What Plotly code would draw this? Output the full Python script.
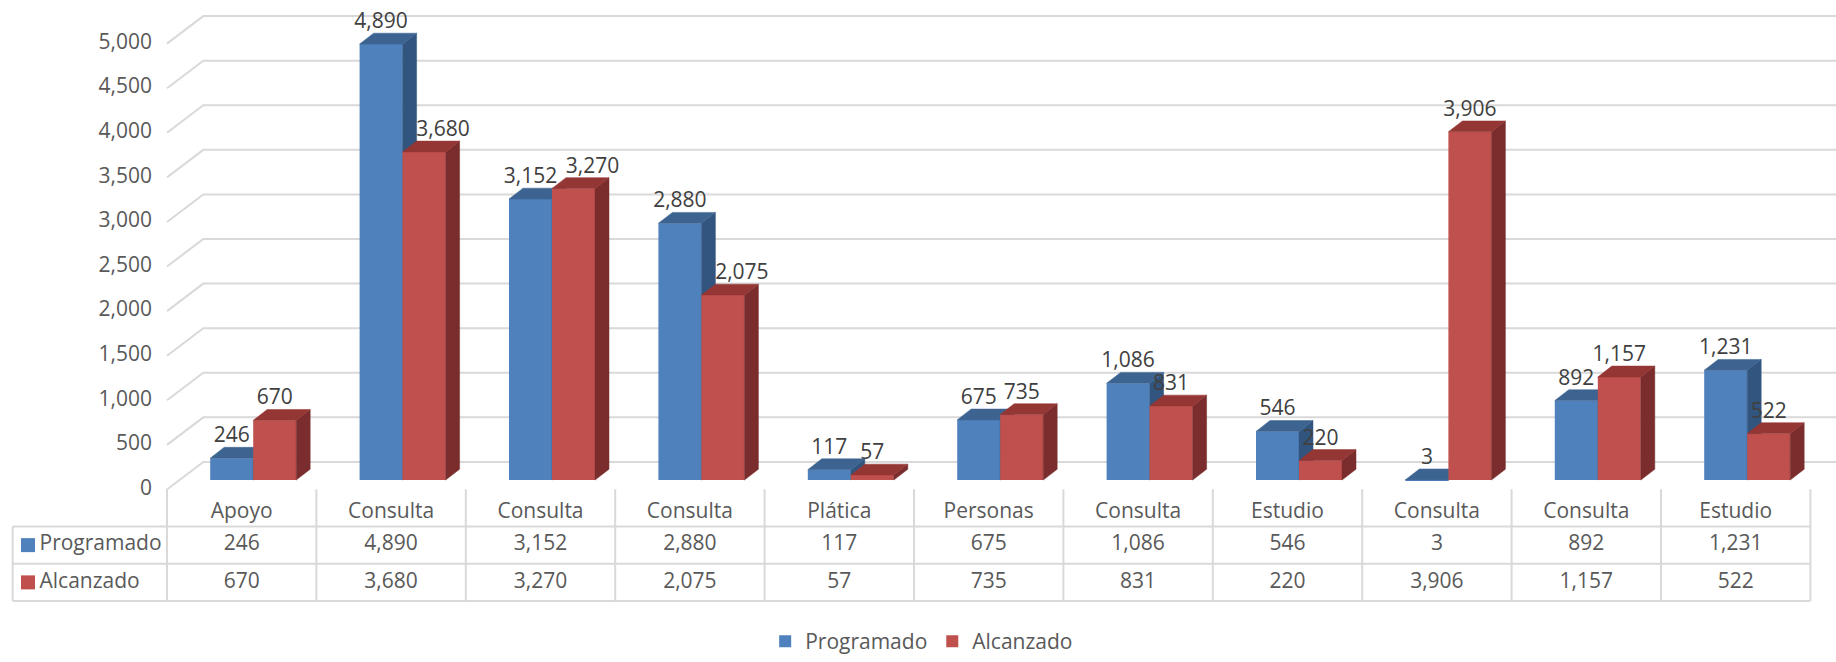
import plotly.graph_objects as go

# ---------------- data ----------------
categories = ["Apoyo", "Consulta", "Consulta", "Consulta", "Plática", "Personas",
              "Consulta", "Estudio", "Consulta", "Consulta", "Estudio"]
programado = [246, 4890, 3152, 2880, 117, 675, 1086, 546, 3, 892, 1231]
alcanzado = [670, 3680, 3270, 2075, 57, 735, 831, 220, 3906, 1157, 522]
series_names = ["Programado", "Alcanzado"]
y_ticks = [0, 500, 1000, 1500, 2000, 2500, 3000, 3500, 4000, 4500, 5000]

# ---------------- styling / geometry ----------------
FONT = "Open Sans"
FS = 21
TXT = "#595959"
LBL = "#404040"
GRID = "#D9D9D9"
FRONT_COL = ["#4F81BD", "#C0504D"]
TOP_COL = ["#3D6491", "#943634"]
SIDE_COL = ["#32557F", "#7B2D2D"]

W_PX, H_PX = 1836, 662
COL_PX = 149.4          # pixel width of one category column
X0_PX = 167.0           # left edge of first column (front plane)
BASE_PX = 486.7         # pixel row of bar base
PX_PER_UNIT = 0.0904    # pixels per value unit

def dx(px):
    return px / COL_PX

def dy(px):
    return px / PX_PER_UNIT

x_min = (0 - X0_PX) / COL_PX - 0.5
x_max = (W_PX - X0_PX) / COL_PX - 0.5
y_min = (BASE_PX - H_PX) / PX_PER_UNIT
y_max = BASE_PX / PX_PER_UNIT

BAR_W = dx(43)          # front face width
SHIFT = dx(11.5)        # bar front plane offset (depth)
DEPTH_X = dx(14)        # bar depth (x)
DEPTH_Y = dy(11)        # bar depth (y)
BACK_X = dx(36.3)       # back wall depth
BACK_Y = dy(18.4)
FRONT_Y = dy(-9.5)
LABEL_PAD = dy(10.5)
LABEL_NUDGE = dx(19)    # sideways move of a crowded label


def fmt(v):
    return f"{v:,}"


def text_w_px(s):
    # rough text width estimate for collision checks
    return sum(5.5 if c == "," else 12.0 for c in s)


# table rows (row units)
ROW_PX = 37.77
TABLE_BOTTOM_PX = 609.3
r_min = -(H_PX - TABLE_BOTTOM_PX) / ROW_PX
r_max = TABLE_BOTTOM_PX / ROW_PX
x_table_left = (12.7 - X0_PX) / COL_PX - 0.5
x_table_right = len(categories) - 0.5

n = len(categories)
idx = list(range(n))
series = [programado, alcanzado]

fig = go.Figure()

# ---- back wall gridlines + slanted floor lines ----
gx, gy = [], []
for t in y_ticks:
    gx += [-0.5, -0.5 + BACK_X, x_max, None]
    gy += [t + FRONT_Y, t + BACK_Y, t + BACK_Y, None]
fig.add_trace(go.Scatter(x=gx, y=gy, mode="lines", line=dict(color=GRID, width=2),
                         hoverinfo="skip", showlegend=False, xaxis="x", yaxis="y"))

# ---- y tick labels ----
fig.add_trace(go.Scatter(x=[-0.5 - dx(15)] * len(y_ticks), y=[t + FRONT_Y for t in y_ticks],
                         mode="text", text=[fmt(t) for t in y_ticks],
                         textposition="middle left",
                         textfont=dict(family=FONT, size=FS, color=TXT),
                         hoverinfo="skip", showlegend=False, xaxis="x", yaxis="y"))

# ---- data table (own row axis) ----
tx, ty = [], []
for r in [2, 1, 0]:
    tx += [x_table_left, x_table_right, None]
    ty += [r, r, None]
for i in range(n + 1):
    tx += [i - 0.5, i - 0.5, None]
    ty += [0, 3, None]
tx += [x_table_left, x_table_left, None]
ty += [0, 2, None]
fig.add_trace(go.Scatter(x=tx, y=ty, mode="lines", line=dict(color=GRID, width=2),
                         hoverinfo="skip", showlegend=False, xaxis="x", yaxis="y2"))
fig.add_trace(go.Scatter(x=idx, y=[2.36] * n, mode="text", text=categories,
                         textfont=dict(family=FONT, size=FS, color=TXT),
                         hoverinfo="skip", showlegend=False, xaxis="x", yaxis="y2"))
for s, (vals, rr) in enumerate(zip(series, [1.5, 0.5])):
    fig.add_trace(go.Scatter(x=idx, y=[rr] * n, mode="text", text=[fmt(v) for v in vals],
                             textfont=dict(family=FONT, size=FS, color=TXT),
                             hoverinfo="skip", showlegend=False, xaxis="x", yaxis="y2"))
    fig.add_trace(go.Scatter(x=[(28 - X0_PX) / COL_PX - 0.5], y=[rr], mode="markers",
                             marker=dict(symbol="square", size=14, color=FRONT_COL[s]),
                             hoverinfo="skip", showlegend=False, xaxis="x", yaxis="y2"))
    fig.add_trace(go.Scatter(x=[(39.5 - X0_PX) / COL_PX - 0.5], y=[rr], mode="text",
                             text=[series_names[s]], textposition="middle right",
                             textfont=dict(family=FONT, size=FS, color=TXT),
                             hoverinfo="skip", showlegend=False, xaxis="x", yaxis="y2"))

# ---- 3D bars: one overlay layer per series ----
layer_axes = ["y3", "y4"]
offsets = [SHIFT - BAR_W, SHIFT]
for s, vals in enumerate(series):
    ya = layer_axes[s]
    off = offsets[s]
    fig.add_trace(go.Bar(x=idx, y=vals, width=BAR_W, offset=off, name=series_names[s],
                         marker=dict(color=FRONT_COL[s], line=dict(width=0)),
                         showlegend=True, xaxis="x", yaxis=ya,
                         hovertemplate="%{y:,}<extra>" + series_names[s] + "</extra>"))
    sx, sy, px_, py_ = [], [], [], []
    for i, v in zip(idx, vals):
        L = i + off
        R = L + BAR_W
        sx += [R, R + DEPTH_X, R + DEPTH_X, R, R, None]
        sy += [0, DEPTH_Y, v + DEPTH_Y, v, 0, None]
        px_ += [L, R, R + DEPTH_X, L + DEPTH_X, L, None]
        py_ += [v, v, v + DEPTH_Y, v + DEPTH_Y, v, None]
    fig.add_trace(go.Scatter(x=sx, y=sy, mode="lines", fill="toself",
                             fillcolor=SIDE_COL[s], line=dict(color=SIDE_COL[s], width=0.5),
                             hoverinfo="skip", showlegend=False, xaxis="x", yaxis=ya))
    fig.add_trace(go.Scatter(x=px_, y=py_, mode="lines", fill="toself",
                             fillcolor=TOP_COL[s], line=dict(color=TOP_COL[s], width=0.5),
                             hoverinfo="skip", showlegend=False, xaxis="x", yaxis=ya))

# ---- data labels (top layer) ----
label_x = [[i + offsets[s] + BAR_W / 2 for i in idx] for s in range(2)]
for i in idx:
    vb, vr = programado[i], alcanzado[i]
    tb, tr = fmt(vb), fmt(vr)
    crowded = (abs(vb - vr) * PX_PER_UNIT < 22 and
               (text_w_px(tb) + text_w_px(tr)) / 2 > 43 + 4)
    hidden_by_blue = vb > vr and len(tr) >= 4
    if crowded or hidden_by_blue:
        label_x[1][i] += LABEL_NUDGE
for s, vals in enumerate(series):
    fig.add_trace(go.Scatter(x=label_x[s],
                             y=[v + DEPTH_Y + LABEL_PAD for v in vals],
                             mode="text", text=[fmt(v) for v in vals],
                             textposition="middle center",
                             textfont=dict(family=FONT, size=FS, color=LBL),
                             hoverinfo="skip", showlegend=False, xaxis="x", yaxis="y5"))

hidden = dict(visible=False, showgrid=False, zeroline=False, fixedrange=True)
fig.update_layout(
    width=W_PX, height=H_PX, autosize=False,
    margin=dict(l=0, r=0, t=0, b=0, pad=0),
    paper_bgcolor="white", plot_bgcolor="white",
    barmode="overlay",
    font=dict(family=FONT, size=FS, color=TXT),
    xaxis=dict(range=[x_min, x_max], **hidden),
    yaxis=dict(range=[y_min, y_max], **hidden),
    yaxis2=dict(range=[r_min, r_max], overlaying="y", anchor="x", **hidden),
    yaxis3=dict(range=[y_min, y_max], overlaying="y", anchor="x", **hidden),
    yaxis4=dict(range=[y_min, y_max], overlaying="y", anchor="x", **hidden),
    yaxis5=dict(range=[y_min, y_max], overlaying="y", anchor="x", **hidden),
    legend=dict(orientation="h", x=0.502, xanchor="center", y=1 - 650.7 / H_PX,
                yanchor="middle", font=dict(family=FONT, size=FS, color=TXT),
                bgcolor="rgba(0,0,0,0)", itemclick=False, itemdoubleclick=False,
                itemwidth=30, tracegroupgap=0),
    showlegend=True,
)

fig.write_html("out.html", config={"displayModeBar": False},
               post_script="document.body.style.margin='0';document.body.style.overflow='hidden';")
